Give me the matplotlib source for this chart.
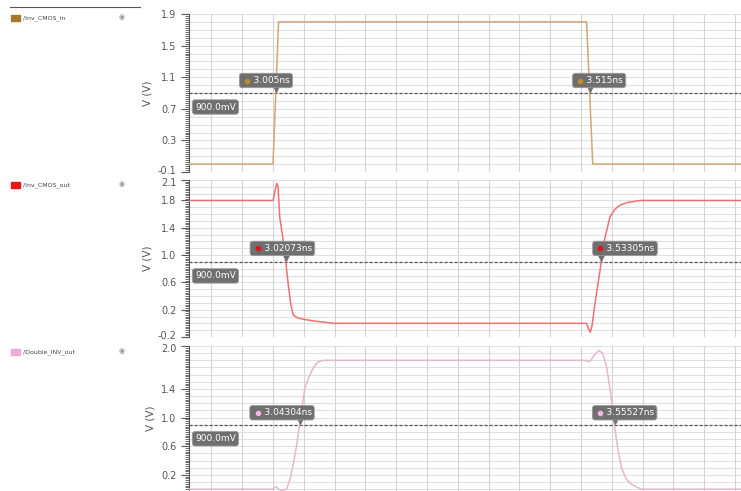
import numpy as np
import matplotlib.pyplot as plt
from matplotlib.ticker import MultipleLocator, FixedLocator
from matplotlib.transforms import offset_copy, ScaledTranslation

# ------------------------------------------------------------------
# waveform data (time in ns, voltage in V)
# ------------------------------------------------------------------
names = ["/Inv_CMOS_in", "/Inv_CMOS_out", "/Double_INV_out"]

t_in = [2.86, 3.0, 3.009, 3.509, 3.519, 3.76]
v_in = [0.0, 0.0, 1.8, 1.8, 0.0, 0.0]

t_out = [2.86, 3.0, 3.003, 3.006, 3.008, 3.011, 3.016, 3.0207, 3.025, 3.029,
         3.033, 3.04, 3.049, 3.07, 3.1, 3.509, 3.512, 3.515, 3.518, 3.522,
         3.527, 3.533, 3.538, 3.547, 3.555, 3.563, 3.575, 3.596, 3.62, 3.76]
v_out = [1.8, 1.8, 1.93, 2.05, 2.02, 1.55, 1.25, 0.9, 0.55, 0.27,
         0.12, 0.08, 0.06, 0.03, 0.0, 0.0, -0.08, -0.13, -0.03, 0.25,
         0.55, 0.9, 1.22, 1.56, 1.67, 1.73, 1.77, 1.8, 1.8, 1.8]

t_dbl = [2.86, 3.0, 3.003, 3.006, 3.009, 3.013, 3.018, 3.022, 3.028, 3.034,
         3.039, 3.043, 3.048, 3.052, 3.058, 3.065, 3.072, 3.081, 3.1, 3.509,
         3.512, 3.516, 3.522, 3.529, 3.535, 3.541, 3.548, 3.554, 3.56, 3.566,
         3.573, 3.58, 3.59, 3.599, 3.76]
v_dbl = [0.0, 0.0, 0.03, 0.03, 0.0, -0.02, -0.01, 0.0, 0.15, 0.4,
         0.65, 0.9, 1.2, 1.42, 1.56, 1.69, 1.77, 1.8, 1.8, 1.8,
         1.78, 1.8, 1.88, 1.94, 1.9, 1.73, 1.35, 0.9, 0.55, 0.29,
         0.15, 0.08, 0.03, 0.0, 0.0]

cross_t = [[3.005, 3.515], [3.02073, 3.53305], [3.04304, 3.55527]]
cross_lbl = [["3.005ns", "3.515ns"], ["3.02073ns", "3.53305ns"], ["3.04304ns", "3.55527ns"]]

yticks = [[-0.1, 0.3, 0.7, 1.1, 1.5, 1.9],
          [-0.2, 0.2, 0.6, 1.0, 1.4, 1.8, 2.1],
          [0.2, 0.6, 1.0, 1.4, 2.0]]

# ------------------------------------------------------------------
# styling / layout (pixel based, figure is 741 x 491)
# ------------------------------------------------------------------
W, H = 741, 491
LEFT = 189
BOX = "#6f6f6f"
line_col = ["#d2a677", "#ef7070", "#e2b8cc"]
sq_col = ["#a8782a", "#e8161a", "#f2a8d8"]
dot_col = ["#c08a30", "#e8101a", "#f4b4e4"]
rows = [(14, 172, (-0.1, 1.9)), (180, 337, (-0.2, 2.1)), (346, 491, (-0.025, 2.0))]
leg_y = [18, 185, 352]
box_dx = [[-37, -18], [-36, -9], [-50, -23]]
box_dy = [12.5, 13.5, 12]

fig = plt.figure(figsize=(7.41, 4.91), dpi=100)
fig.patch.set_facecolor("white")

# left side signal list
fig.add_artist(plt.Line2D([10 / W, 140 / W], [1 - 7 / H, 1 - 7 / H], color="#555555", lw=0.8))

series = [(t_in, v_in), (t_out, v_out), (t_dbl, v_dbl)]
for i, (top, bot, ylim) in enumerate(rows):
    ax = fig.add_axes([LEFT / W, 1 - bot / H, (W - LEFT) / W, (bot - top) / H])
    ax.set_xlim(2.8636, 3.7597)
    ax.set_ylim(*ylim)

    # grid
    ax.xaxis.set_major_locator(MultipleLocator(0.05))
    ax.grid(True, axis="x", color="#d4d4d4", lw=0.8, zorder=0)
    for y in np.arange(np.ceil(ylim[0] * 10) / 10, ylim[1] + 0.001, 0.1):
        ax.axhline(y, color="#e0e0e0", lw=0.8, zorder=0)
    ax.tick_params(axis="x", length=0, labelbottom=False)

    ax.yaxis.set_major_locator(FixedLocator(yticks[i]))
    ax.yaxis.set_minor_locator(MultipleLocator(0.025))
    ax.tick_params(axis="y", which="major", length=6, width=0.8, labelsize=7,
                   colors="#555555", pad=3)
    ax.tick_params(axis="y", which="minor", length=3, width=0.6, color="#555555")
    ax.set_yticklabels([f"{v:.1f}" for v in yticks[i]])
    ax.set_ylabel("V (V)", fontsize=7.5, color="#555555", labelpad=4)
    for s in ["top", "right", "bottom"]:
        ax.spines[s].set_visible(False)
    ax.spines["left"].set_color("#555555")
    ax.spines["left"].set_linewidth(0.8)

    # keep the end labels of neighbouring panels apart
    labels = ax.get_yticklabels()
    if i < 2:
        lab = labels[0]
        lab.set_transform(lab.get_transform() + ScaledTranslation(0, 2 / 100, fig.dpi_scale_trans))
    if i > 0:
        lab = labels[-1]
        lab.set_transform(lab.get_transform() + ScaledTranslation(0, -2 / 100, fig.dpi_scale_trans))

    # threshold line
    ax.axhline(0.9, color="#555555", lw=0.9, ls=(0, (2.5, 1.5)), zorder=2)
    ax.annotate("900.0mV", xy=(0, 0.9), xycoords=("axes fraction", "data"),
                xytext=(6, -14), textcoords="offset pixels", ha="left", va="center",
                fontsize=6.5, color="white", zorder=5,
                bbox=dict(boxstyle="round,pad=0.3", fc=BOX, ec="#9a9a9a", lw=0.6))

    # waveform
    t, v = series[i]
    ax.plot(t, v, color=line_col[i], lw=1.1, zorder=3)

    # crossing markers
    for k in range(2):
        tc = cross_t[i][k]
        dx = box_dx[i][k]
        ax.annotate("    " + cross_lbl[i][k], xy=(tc, 0.9), xytext=(dx + 3, box_dy[i]),
                    textcoords="offset pixels", ha="left", va="center",
                    fontsize=6.5, color="white", zorder=6,
                    bbox=dict(boxstyle="round,pad=0.3", fc=BOX, ec="#9a9a9a", lw=0.6))
        ax.plot([tc], [0.9], marker="v", ms=6, color=BOX, mec="none", zorder=5,
                transform=offset_copy(ax.transData, fig=fig, x=0, y=4, units="dots"))
        ax.plot([tc], [0.9], marker="o", ms=4, color=dot_col[i], mec="none", zorder=7,
                transform=offset_copy(ax.transData, fig=fig, x=dx + 8, y=box_dy[i],
                                      units="dots"))

    # signal list entry
    fig.patches.append(plt.Rectangle((11 / W, 1 - (leg_y[i] + 3) / H), 9 / W, 6 / H,
                                     transform=fig.transFigure, color=sq_col[i]))
    fig.text(23 / W, 1 - leg_y[i] / H, names[i], fontsize=4.5, color="#444444", va="center")
    fig.text(122 / W, 1 - (leg_y[i] - 1) / H, "\u25c9", fontsize=5, color="#8a95a5",
             ha="center", va="center")

fig.savefig("out.png", dpi=100)
